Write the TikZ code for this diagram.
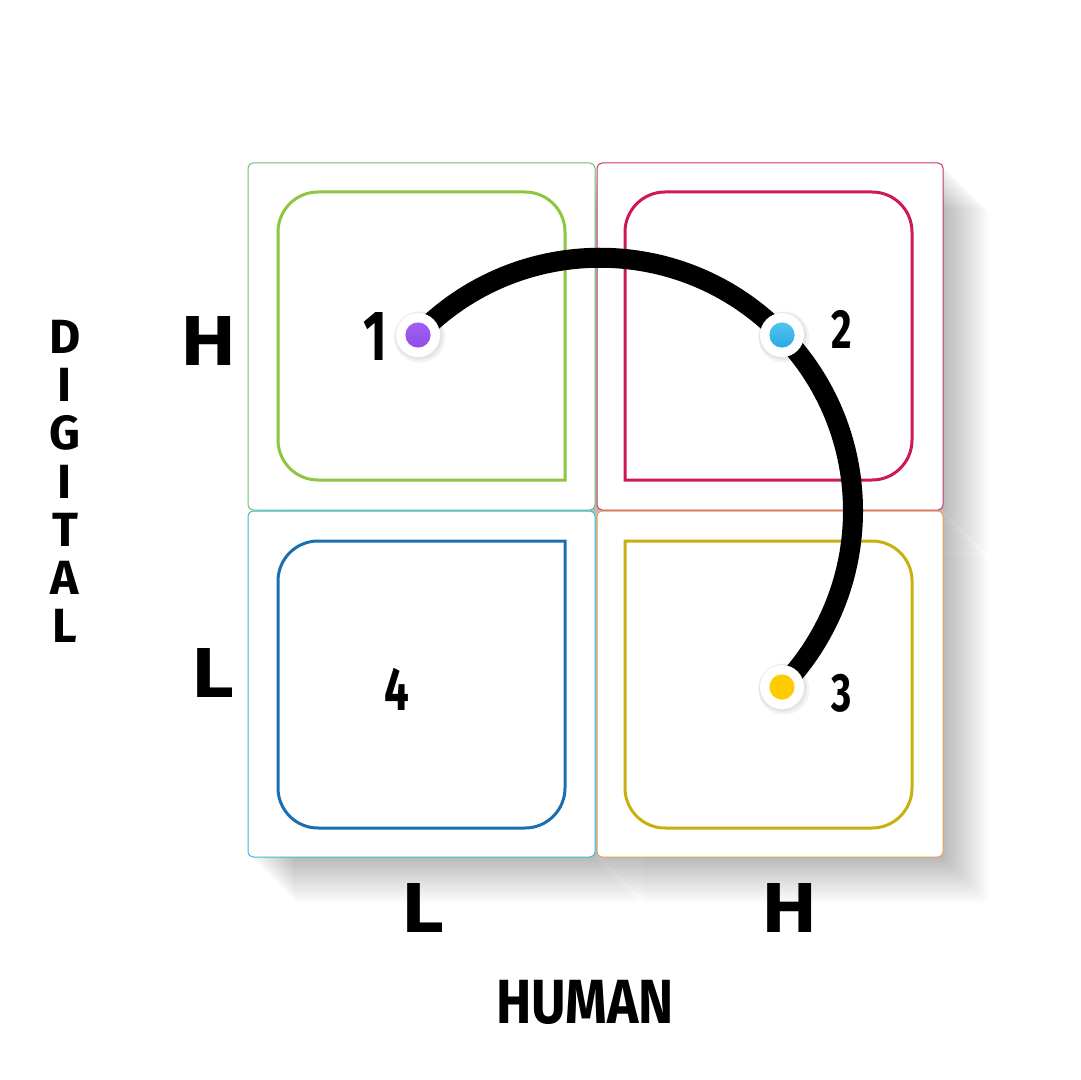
\documentclass[tikz,border=0pt]{standalone}
\usepackage{fontspec}
\setmainfont{Fira Sans}
\newfontfamily\heavyf{DejaVu Sans}
\newfontfamily\condf[FakeStretch=0.85]{Fira Sans}
\newfontfamily\digf[FakeStretch=0.72]{Fira Sans}
\definecolor{cgreen}{HTML}{6CC070}
\definecolor{cred}{HTML}{C8336A}
\definecolor{ccyan}{HTML}{3BB8D8}
\definecolor{corange}{HTML}{E8A050}
\definecolor{igreen}{HTML}{8DC63F}
\definecolor{ired}{HTML}{CC1855}
\definecolor{iblue}{HTML}{1A6FB0}
\definecolor{iolive}{HTML}{C8B010}
\definecolor{dpurple}{HTML}{8E4CEA}
\definecolor{dpurpleL}{HTML}{A060F2}
\definecolor{dblue}{HTML}{2AAAE2}
\definecolor{dblueL}{HTML}{50C4F2}
\definecolor{dyellow}{HTML}{FFCC00}
\tikzset{
  cellbox/.style={draw=#1, line width=0.5pt, fill=white, rounded corners=2.5pt},
  innerbox/.style={draw=#1, line width=1.5pt, rounded corners=20pt, line cap=rect},
  heavylbl/.style={font=\heavyf\bfseries\fontsize{33.6}{36}\selectfont, inner sep=0pt},
  axislbl/.style={font=\condf\bfseries\fontsize{31.2}{34}\selectfont, inner sep=0pt},
  diglbl/.style={font=\bfseries\fontsize{24}{26}\selectfont, inner sep=0pt},
  numlbl/.style={font=\digf\bfseries\fontsize{#1}{#1}\selectfont, inner sep=0pt},
  dotwhite/.style={circle, fill=white, minimum size=22pt, inner sep=0pt},
}
\begin{document}
\begin{tikzpicture}[x=0.5pt,y=-0.5pt]
\useasboundingbox (0,0) rectangle (1080,1080);
\fill[white] (0,0) rectangle (1080,1080);
% long shadows
\foreach \xa/\ya/\xb/\yb in {248/163/595/510, 597/163/943/510, 248/511/595/857, 597/511/943/857}{
  \foreach \i in {2,4,...,46}{
    \fill[black, opacity=0.011, rounded corners=2.5pt] (\xa+\i,\ya+\i) rectangle (\xb+\i,\yb+\i);
  }
}
% cells
\draw[cellbox=cgreen] (248,163) rectangle (595,510);
\draw[cellbox=cred] (597,163) rectangle (943,510);
\draw[cellbox=ccyan] (248,511) rectangle (595,857);
\draw[cellbox=corange] (597,511) rectangle (943,857);
% inner boxes
\draw[innerbox=igreen] (565,480) -- (278,480) -- (278,192) -- (565,192) -- (565,480);
\draw[innerbox=ired] (625,480) -- (625,192) -- (912,192) -- (912,480) -- (625,480);
\draw[innerbox=iblue] (565,541) -- (565,828) -- (278,828) -- (278,541) -- (565,541);
\draw[innerbox=iolive] (625,541) -- (912,541) -- (912,828) -- (625,828) -- (625,541);
% dot positions
\coordinate (c) at (600,511);
\coordinate (p1) at (418,335);
\coordinate (p2) at (782,335);
\coordinate (p3) at (782,687);
% arc
\draw[line width=10pt, black] (p1) arc[start angle=224, end angle=404, radius=253];
% dots
\foreach \p in {p1,p2,p3}{
  \fill[black, opacity=0.05] ([xshift=0.8pt,yshift=-1pt]\p) circle (12.8pt);
  \fill[black, opacity=0.05] ([xshift=0.4pt,yshift=-0.5pt]\p) circle (11.9pt);
}
\node[dotwhite] (d1) at (p1) {};
\node[dotwhite] (d2) at (p2) {};
\node[dotwhite] (d3) at (p3) {};
\shade[top color=dpurpleL, bottom color=dpurple] (d1.center) circle (6.3pt);
\shade[top color=dblueL, bottom color=dblue] (d2.center) circle (6.3pt);
\fill[dyellow] (d3.center) circle (6.3pt);
% numbers
\node[numlbl=35.5] (n1) at (375,337) {1};
\node[numlbl=27.6] (n2) at (842,329) {2};
\node[numlbl=27] (n3) at (842,693) {3};
\node[numlbl=30.5] (n4) at (397,689) {4};
% axis level labels
\node[heavylbl] (hl) at (209,341) {H};
\node[heavylbl] (ll) at (213,673) {L};
\node[heavylbl] (lb) at (423,908) {L};
\node[heavylbl] (hb) at (790,908) {H};
% axis titles
\node[axislbl] (human) at (585,1002) {HUMAN};
\foreach \ch [count=\k from 0] in {D,I,G,I,T,A,L}{
  \node[diglbl] (dg\k) at (65,336.5+48.3*\k) {\ch};
}
\end{tikzpicture}
\end{document}
